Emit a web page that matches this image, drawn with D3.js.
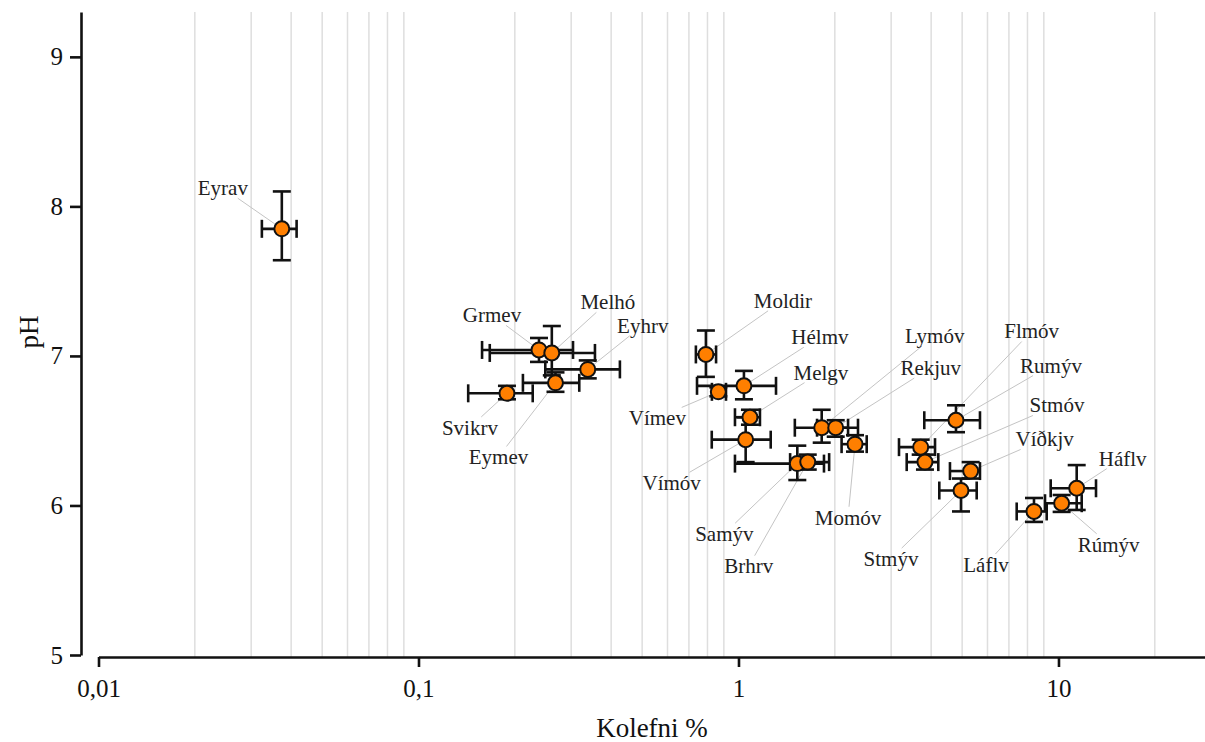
<!DOCTYPE html>
<html>
<head>
<meta charset="utf-8">
<script src="https://cdn.jsdelivr.net/npm/d3@7"></script>
<style>
  html, body { margin: 0; padding: 0; background: #fff; }
  svg text { font-family: "Liberation Serif", "Times New Roman", "DejaVu Serif", serif !important; }
</style>
</head>
<body>
<div id="chart"></div>
<script>
// Sites, carbon % (log axis) and pH, with the error bar ends
const sites     = ["Eyrav", "Grmev", "Melhó", "Eyhrv", "Eymev", "Svikrv", "Moldir", "Vímev", "Hélmv", "Melgv", "Vímóv", "Samýv",
                   "Brhrv", "Lymóv", "Rekjuv", "Momóv", "Flmóv", "Rumýv", "Stmóv", "Víðkjv", "Stmýv", "Háflv", "Rúmýv", "Láflv"];
const kolefni   = [0.0374, 0.238, 0.261, 0.338, 0.268, 0.189, 0.791, 0.865, 1.04, 1.086, 1.053, 1.527,
                   1.646, 1.82, 2.013, 2.313, 3.71, 4.783, 3.826, 5.316, 4.958, 11.40, 10.23, 8.384];
const kolefniLo = [0.0324, 0.158, 0.167, 0.249, 0.212, 0.143, 0.736, 0.826, 0.742, 0.975, 0.825, 0.975,
                   1.45, 1.50, 1.76, 2.10, 3.174, 3.807, 3.355, 4.58, 4.242, 9.454, 9.076, 7.403];
const kolefniHi = [0.0416, 0.304, 0.356, 0.426, 0.318, 0.2275, 0.851, 0.914, 1.31, 1.167, 1.261, 1.85,
                   1.92, 2.20, 2.363, 2.516, 4.113, 5.684, 4.211, 5.684, 5.551, 13.10, 11.82, 9.186];
const ph        = [7.85, 7.04, 7.02, 6.91, 6.82, 6.75, 7.01, 6.76, 6.80, 6.59, 6.44, 6.28,
                   6.29, 6.52, 6.52, 6.41, 6.39, 6.57, 6.29, 6.23, 6.10, 6.115, 6.015, 5.96];
const phLo      = [7.64, 6.96, 6.87, 6.85, 6.76, 6.71, 6.86, 6.73, 6.71, 6.54, 6.29, 6.17,
                   6.24, 6.42, 6.46, 6.36, 6.34, 6.49, 6.24, 6.18, 5.96, 5.97, 5.957, 5.89];
const phHi      = [8.10, 7.12, 7.20, 6.97, 6.89, 6.80, 7.17, 6.79, 6.90, 6.64, 6.59, 6.40,
                   6.34, 6.64, 6.57, 6.47, 6.44, 6.67, 6.34, 6.29, 6.18, 6.27, 6.07, 6.05];

// Label placement (pixel offset of the label centre from its point)
const labelOffset = [[-59, -41], [-47, -35], [56, -51], [55, -44], [-57, 74], [-37, 34], [77, -54], [-61, 26],
                     [76, -49], [71, -45], [-74, 43], [-73, 70], [-59, 104], [113, -92], [95, -60], [-7, 73],
                     [111, -116], [95, -55], [132, -57], [74, -32], [-70, 68], [46, -30], [47, 41], [-48, 53]];

const xTicks = [0.01, 0.1, 1, 10];
const xTickLabels = ["0,01", "0,1", "1", "10"];
const yTicks = [5, 6, 7, 8, 9];

const data = sites.map((name, i) => ({
    name,
    x: kolefni[i], xLo: kolefniLo[i], xHi: kolefniHi[i],
    y: ph[i], yLo: phLo[i], yHi: phHi[i],
    off: labelOffset[i]
}));

const width = 1205;
const height = 742;
const serif = "'Liberation Serif', 'Times New Roman', serif";

const svg = d3.select("#chart").append("svg")
    .attr("width", width)
    .attr("height", height)
    .style("font-family", serif);

// Scales
const x = d3.scaleLog()
    .domain([0.01, 28.7])
    .range([98.5, 1205]);

const y = d3.scaleLinear()
    .domain([5, 9.3])
    .range([655, 12]);

// Grid lines at the minor log steps
const minor = x.ticks().filter(v => Math.abs(Math.log10(v) - Math.round(Math.log10(v))) > 1e-6);
svg.append("g")
    .selectAll("line")
    .data(minor)
    .join("line")
    .attr("x1", d => x(d))
    .attr("x2", d => x(d))
    .attr("y1", y.range()[1])
    .attr("y2", 657)
    .attr("stroke", "#dedede")
    .attr("stroke-width", 1.5);

const leaderG = svg.append("g");
const barG = svg.append("g");
const pointG = svg.append("g");
const labelG = svg.append("g");

// Error bars
const cap = 9;
barG.selectAll("g")
    .data(data)
    .join("g")
    .each(function(d) {
        const g = d3.select(this);
        const cx = x(d.x), cy = y(d.y);
        const segs = [
            [x(d.xLo), cy, x(d.xHi), cy],
            [x(d.xLo), cy - cap, x(d.xLo), cy + cap],
            [x(d.xHi), cy - cap, x(d.xHi), cy + cap],
            [cx, y(d.yLo), cx, y(d.yHi)],
            [cx - cap, y(d.yLo), cx + cap, y(d.yLo)],
            [cx - cap, y(d.yHi), cx + cap, y(d.yHi)]
        ];
        g.selectAll("line")
            .data(segs)
            .join("line")
            .attr("x1", s => s[0]).attr("y1", s => s[1])
            .attr("x2", s => s[2]).attr("y2", s => s[3])
            .attr("stroke", "#111")
            .attr("stroke-width", 2.6);
    });

// Points
pointG.selectAll("circle")
    .data(data)
    .join("circle")
    .attr("cx", d => x(d.x))
    .attr("cy", d => y(d.y))
    .attr("r", 7.5)
    .attr("fill", "#ff7f00")
    .attr("stroke", "#111")
    .attr("stroke-width", 2);

// Labels + leader lines
labelG.selectAll("text")
    .data(data)
    .join("text")
    .attr("x", d => x(d.x) + d.off[0])
    .attr("y", d => y(d.y) + d.off[1])
    .attr("dy", "0.35em")
    .attr("text-anchor", "middle")
    .attr("font-size", 21)
    .attr("fill", "#222")
    .text(d => d.name)
    .each(function(d) {
        const b = this.getBBox();
        const tx = x(d.x) + d.off[0], ty = y(d.y) + d.off[1];
        const px = x(d.x), py = y(d.y);
        const dx = px - tx, dy = py - ty;
        const t = Math.min((b.width / 2 + 1) / Math.abs(dx || 1e-6), (b.height * 0.35 + 2) / Math.abs(dy || 1e-6));
        leaderG.append("line")
            .attr("x1", tx + t * dx)
            .attr("y1", ty + t * dy)
            .attr("x2", px)
            .attr("y2", py)
            .attr("stroke", "#c4c4c4")
            .attr("stroke-width", 1);
    });

// Axes
const xAxis = svg.append("g")
    .attr("transform", "translate(0,657)")
    .call(d3.axisBottom(x)
        .tickValues(xTicks)
        .tickFormat((d, i) => xTickLabels[i])
        .tickSize(10)
        .tickSizeOuter(0)
        .tickPadding(12));

const yAxis = svg.append("g")
    .attr("transform", "translate(81,0)")
    .call(d3.axisLeft(y)
        .tickValues(yTicks)
        .tickFormat(d3.format("d"))
        .tickSize(11)
        .tickSizeOuter(0)
        .tickPadding(7));

[xAxis, yAxis].forEach(a => {
    a.attr("font-family", null);
    a.select(".domain").attr("stroke", "#111").attr("stroke-width", 2.6);
    a.selectAll(".tick line").attr("stroke", "#111").attr("stroke-width", 2.6);
    a.selectAll(".tick text")
        .attr("font-size", 25)
        .attr("fill", "#111");
});

// Axis titles
svg.append("text")
    .attr("x", 652)
    .attr("y", 737)
    .attr("text-anchor", "middle")
    .attr("font-size", 27)
    .attr("fill", "#111")
    .text("Kolefni %");

svg.append("text")
    .attr("transform", "translate(38,332) rotate(-90)")
    .attr("text-anchor", "middle")
    .attr("font-size", 27)
    .attr("fill", "#111")
    .text("pH");
</script>
</body>
</html>
